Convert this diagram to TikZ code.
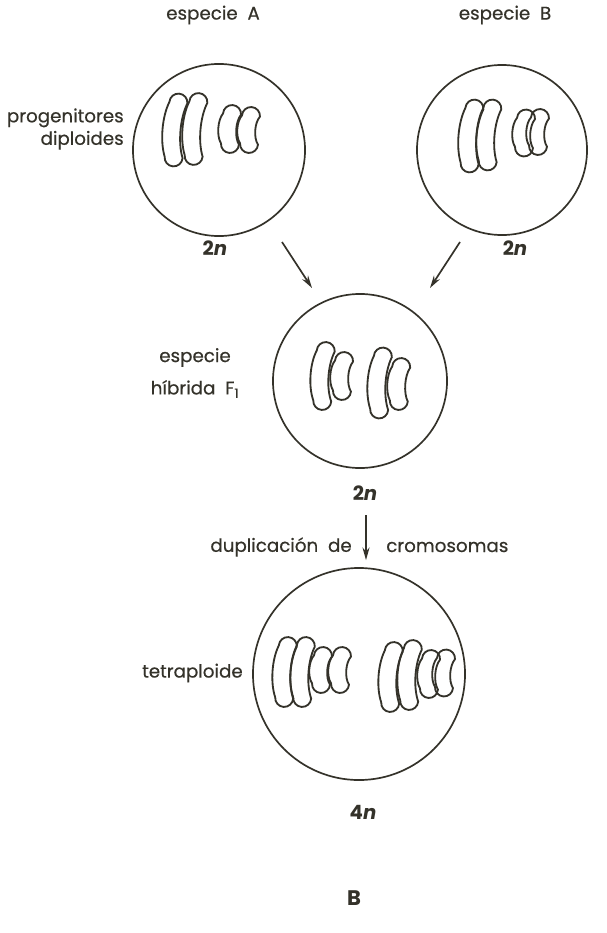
\documentclass[tikz,border=0pt]{standalone}
\usepackage{fontspec}
\setmainfont{Poppins}
\usetikzlibrary{arrows.meta}

\definecolor{ink}{RGB}{52,50,42}

\tikzset{
  cell/.style={draw=ink, line width=1.2pt, circle, inner sep=0pt},
  chrom/.style={draw=ink, line width=1.3pt},
  lbl/.style={text=ink, inner sep=0pt, font=\fontsize{13}{16}\selectfont\addfontfeature{FakeBold=0.5}},
  ploidy/.style={text=ink, inner sep=0pt, font=\fontsize{14}{16}\selectfont\bfseries},
  arr/.style={draw=ink, line width=1.2pt, -{Stealth[length=9pt, width=5pt]}}
}

% one chromosome: x, y, length, bow, angle
\newcommand{\chromo}[5]{%
  \begin{scope}[shift={(#1,#2)}, rotate=#5]
    \draw[chrom] (-9,{#3/2-9}) .. controls ({-9-#4},{#3/6}) and ({-9-#4},{-#3/6}) .. (-9,{-#3/2+9})
      arc[start angle=180, end angle=360, radius=9]
      .. controls ({9-#4},{-#3/6}) and ({9-#4},{#3/6}) .. (9,{#3/2-9})
      arc[start angle=0, end angle=180, radius=9] -- cycle;
  \end{scope}}

\begin{document}
\begin{tikzpicture}[x=0.025cm, y=0.025cm]
  \useasboundingbox (0,0) rectangle (606,-933);

  % parents
  \node[cell, minimum size=4.3cm] (A) at (219,-150) {};
  \node[cell, minimum size=4.25cm] (B) at (502,-150) {};
  \node[lbl] (nameA) at (213,-15) {especie\ \ A};
  \node[lbl] (nameB) at (505,-15) {especie\ \ B};
  \node[lbl, anchor=east, align=right] (par) at (124,-129) {progenitores\\diploides};
  \node[ploidy] (nA) at (215,-248) {2\textit{n}};
  \node[ploidy] (nB) at (515,-248) {2\textit{n}};

  \chromo{176}{-130}{73}{6}{-5}
  \chromo{196}{-129}{72}{6}{-5}
  \chromo{231}{-129}{48}{5}{-4}
  \chromo{250}{-130}{46}{5}{-4}

  \chromo{472}{-136}{73}{6}{-5}
  \chromo{490}{-135}{71}{6}{-5}
  \chromo{525}{-133}{47}{5}{-4}
  \chromo{539}{-132}{46}{5}{-4}

  % hybrid
  \node[cell, minimum size=4.35cm] (F) at (360,-381) {};
  \node[lbl, align=center, font=\fontsize{13}{23}\selectfont\addfontfeature{FakeBold=0.5}] (hyb) at (195,-373) {especie\\híbrida\ \ F\textsubscript{1}};
  \node[ploidy] (nF) at (365,-493) {2\textit{n}};

  \chromo{324}{-376}{68}{6}{-4}
  \chromo{343}{-376}{48}{5}{-4}
  \chromo{381}{-383}{71}{6}{-4}
  \chromo{400}{-384}{52}{5}{-4}

  \coordinate (a1) at (282,-242);
  \coordinate (a2) at (312,-288);
  \coordinate (b1) at (460,-242);
  \coordinate (b2) at (430,-288);
  \draw[arr] (a1) -- (a2);
  \draw[arr] (b1) -- (b2);

  % doubling
  \node[cell, minimum size=5.3cm] (T) at (359,-674) {};
  \node[lbl, anchor=east] (dup) at (352,-547) {duplicación\ \ de};
  \node[lbl, anchor=west] (cro) at (386,-547) {cromosomas};
  \coordinate (d1) at (366,-515);
  \draw[arr] (d1) -- ([yshift=5]d1 |- T.north);
  \node[lbl, anchor=east] (tet) at (243,-673) {tetraploide};
  \node[ploidy] (nT) at (363,-812) {4\textit{n}};

  \chromo{286}{-672}{70}{6}{-4}
  \chromo{304}{-672}{70}{6}{-4}
  \chromo{322}{-670}{46}{5}{-4}
  \chromo{341}{-670}{46}{5}{-4}
  \chromo{392}{-677}{70}{6}{-4}
  \chromo{411}{-675}{70}{6}{-4}
  \chromo{430}{-674}{48}{5}{-4}
  \chromo{445}{-673}{47}{5}{-4}

  \node[ploidy, font=\fontsize{15}{16}\selectfont\bfseries] (fig) at (354,-898) {B};
\end{tikzpicture}
\end{document}
